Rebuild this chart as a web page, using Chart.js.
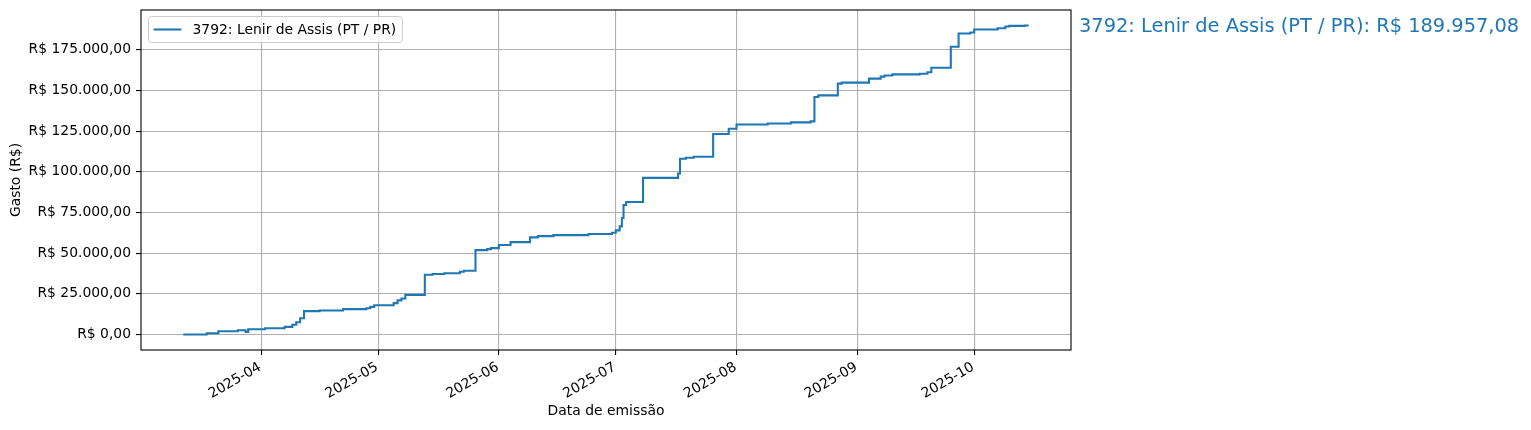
<!DOCTYPE html>
<html>
<head>
<meta charset="utf-8">
<script src="https://cdn.jsdelivr.net/npm/chart.js@4.4.0/dist/chart.umd.min.js"></script>
<style>
html, body { margin: 0; padding: 0; background: #fff; }
</style>
</head>
<body>
<canvas id="chart1" width="1531" height="430"></canvas>
<script>
// cumulative spend
const emissionDates = [
    '2025-03-12', '2025-03-18', '2025-03-21', '2025-03-26', '2025-03-28', '2025-03-28T16:00',
    '2025-04-02', '2025-04-07', '2025-04-09', '2025-04-10', '2025-04-11', '2025-04-12', '2025-04-16', '2025-04-22', '2025-04-28', '2025-04-29', '2025-04-30',
    '2025-05-05', '2025-05-06', '2025-05-07', '2025-05-08', '2025-05-13', '2025-05-15', '2025-05-18', '2025-05-22', '2025-05-23', '2025-05-26', '2025-05-29', '2025-05-30',
    '2025-06-01', '2025-06-04', '2025-06-09', '2025-06-11', '2025-06-15', '2025-06-24', '2025-06-30',
    '2025-07-01', '2025-07-02', '2025-07-02T14:00', '2025-07-03', '2025-07-03T16:00', '2025-07-08', '2025-07-17', '2025-07-17T12:00', '2025-07-19', '2025-07-21', '2025-07-26', '2025-07-30',
    '2025-08-01', '2025-08-09', '2025-08-15', '2025-08-20', '2025-08-21', '2025-08-22', '2025-08-27', '2025-08-28',
    '2025-09-04', '2025-09-07', '2025-09-08', '2025-09-10', '2025-09-17', '2025-09-19', '2025-09-20', '2025-09-25', '2025-09-27', '2025-09-30',
    '2025-10-01', '2025-10-07', '2025-10-09', '2025-10-10', '2025-10-14', '2025-10-15'
];
const cumulativeSpend = [
    0, 800, 2000, 2600, 1600, 3300,
    3900, 4700, 6000, 7600, 10000, 14400, 14800, 15600, 16200, 17000, 18000,
    19300, 21000, 22200, 24400, 36700, 37200, 37700, 38600, 39200, 51900, 52500, 53100,
    55000, 56800, 59700, 60500, 61100, 61800, 62600,
    64000, 66500, 71600, 79600, 81500, 96300, 99000, 108000, 108700, 109300, 123300, 126500,
    129100, 129700, 130400, 131000, 146000, 147000, 154200, 154800,
    157300, 158500, 159200, 159900, 160300, 161200, 164000, 176900, 185000, 185600,
    187500, 188200, 189300, 189700, 189957.08, 189957.08
];
const monthTicks = ['2025-04-01', '2025-05-01', '2025-06-01', '2025-07-01', '2025-08-01', '2025-09-01', '2025-10-01'];
const spendTicks = [0, 25000, 50000, 75000, 100000, 125000, 150000, 175000];
const seriesLabel = '3792: Lenir de Assis (PT / PR)';

const FONT = 'DejaVu Sans';
const BLUE = '#1f77b4';

function toMs(s){
    return Date.parse(s.length > 10 ? s + ':00Z' : s + 'T00:00:00Z');
}

function brl(v){
    let parts = Math.abs(v).toFixed(2).split('.');
    let int = parts[0].replace(/\B(?=(\d{3})+(?!\d))/g, '.');
    return 'R$ ' + (v < 0 ? '-' : '') + int + ',' + parts[1];
}

function monthLabel(v){
    let d = new Date(v);
    return d.getUTCFullYear() + '-' + String(d.getUTCMonth() + 1).padStart(2, '0');
}

// matplotlib style 5% margins
let xs = emissionDates.map(toMs);
let xSpan = xs[xs.length - 1] - xs[0];
let yMax = Math.max(...cumulativeSpend);

// full box round the axes, like the matplotlib spines
const frame = {
    id: 'frame',
    afterDatasetsDraw(chart){
        const {ctx, chartArea: a} = chart;
        ctx.save();
        ctx.strokeStyle = '#000';
        ctx.lineWidth = 1.1;
        ctx.strokeRect(a.left, a.top, a.right - a.left, a.bottom - a.top);
        ctx.restore();
    }
};

// legend inside the axes + the total written right of the plot
const notes = {
    id: 'notes',
    afterDraw(chart){
        const {ctx, chartArea: a} = chart;
        ctx.save();
        ctx.font = '13.9px "' + FONT + '"';
        let tw = ctx.measureText(seriesLabel).width;
        let bx = a.left + 7, by = a.top + 6;
        let bw = 5.6 * 2 + 27.8 + 11.1 + tw, bh = 26;
        ctx.beginPath();
        ctx.roundRect(bx + 0.5, by + 0.5, bw, bh, 3);
        ctx.fillStyle = 'rgba(255,255,255,0.8)';
        ctx.fill();
        ctx.strokeStyle = '#cccccc';
        ctx.lineWidth = 1;
        ctx.stroke();

        let my = by + bh / 2 + 0.5;
        ctx.beginPath();
        ctx.moveTo(bx + 5.6, my);
        ctx.lineTo(bx + 5.6 + 27.8, my);
        ctx.strokeStyle = BLUE;
        ctx.lineWidth = 2.08;
        ctx.stroke();

        ctx.fillStyle = '#000';
        ctx.textBaseline = 'middle';
        ctx.fillText(seriesLabel, bx + 5.6 + 27.8 + 11.1, my + 1);

        let last = cumulativeSpend[cumulativeSpend.length - 1];
        ctx.font = '19.4px "' + FONT + '"';
        ctx.fillStyle = BLUE;
        ctx.textBaseline = 'alphabetic';
        ctx.fillText(seriesLabel + ': ' + brl(last), a.right + 8, chart.scales.y.getPixelForValue(last) + 6.5);
        ctx.restore();
    }
};

function drawChart1(){
    const chart1 = new Chart('chart1', {
        type: 'line',
        data: {
            datasets: [
                {
                    label: seriesLabel,
                    data: emissionDates.map((d, i) => ({x: toMs(d), y: cumulativeSpend[i]})),
                    stepped: 'before', // value holds until the next date (matplotlib "post")
                    borderColor: BLUE,
                    borderWidth: 2.08,
                    pointRadius: 0,
                    fill: false
                }
            ]
        },
        options: {
            responsive: false,
            animation: false,
            layout: { padding: { left: 0, right: 460, top: 10, bottom: 0 } },
            scales: {
                x: {
                    type: 'linear',
                    min: xs[0] - 0.05 * xSpan,
                    max: xs[xs.length - 1] + 0.05 * xSpan,
                    afterBuildTicks: s => { s.ticks = monthTicks.map(d => ({value: toMs(d)})); },
                    afterFit: s => { s.height = 80; s.paddingLeft = 0; s.paddingRight = 0; },
                    ticks: {
                        callback: v => monthLabel(v),
                        minRotation: 30,
                        maxRotation: 30,
                        autoSkip: false,
                        padding: 4,
                        labelOffset: -1,
                        color: '#000',
                        font: { family: FONT, size: 13.9 }
                    },
                    grid: { color: '#b0b0b0', lineWidth: 1.1, tickLength: 5, tickColor: '#000' },
                    border: { display: false },
                    title: {
                        display: true,
                        text: 'Data de emissão',
                        color: '#000',
                        font: { family: FONT, size: 13.9 },
                        padding: { top: 0, bottom: 10 }
                    }
                },
                y: {
                    min: -0.05 * yMax,
                    max: 1.05 * yMax,
                    afterBuildTicks: s => { s.ticks = spendTicks.map(v => ({value: v})); },
                    afterFit: s => { s.width = 141; s.paddingTop = 0; s.paddingBottom = 0; },
                    ticks: {
                        callback: v => brl(v),
                        padding: 5,
                        color: '#000',
                        font: { family: FONT, size: 13.9 }
                    },
                    grid: { color: '#b0b0b0', lineWidth: 1.1, tickLength: 5, tickColor: '#000' },
                    border: { display: false },
                    title: {
                        display: true,
                        text: 'Gasto (R$)',
                        color: '#000',
                        font: { family: FONT, size: 13.9 },
                        padding: { top: 8, bottom: 0 }
                    }
                }
            },
            plugins: {
                legend: { display: false },
                tooltip: { enabled: false }
            }
        },
        plugins: [frame, notes]
    });
}

drawChart1();
</script>
</body>
</html>
